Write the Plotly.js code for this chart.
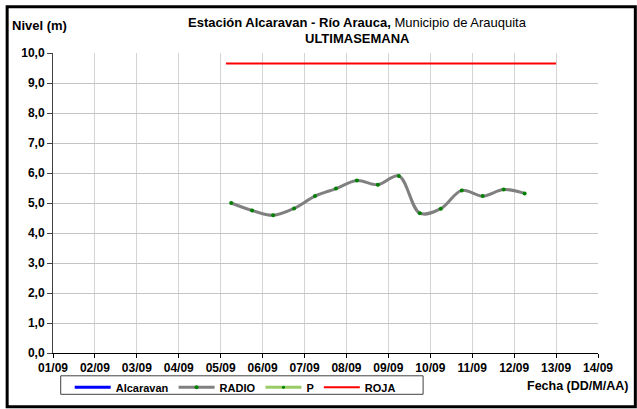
<!DOCTYPE html>
<html>
<head>
<meta charset="utf-8">
<script src="https://cdn.plot.ly/plotly-3.0.1.min.js"></script>
<style>
html,body{margin:0;padding:0;background:#fff;}
#chart{width:637px;height:409px;}
</style>
</head>
<body>
<div id="chart"></div>
<script>
// ---- data ----
var radioDates = ['2023-09-05 06:00','2023-09-05 18:00','2023-09-06 06:00','2023-09-06 18:00',
  '2023-09-07 06:00','2023-09-07 18:00','2023-09-08 06:00','2023-09-08 18:00',
  '2023-09-09 06:00','2023-09-09 18:00','2023-09-10 06:00','2023-09-10 18:00',
  '2023-09-11 06:00','2023-09-11 18:00','2023-09-12 06:00'];
var radioValues = [5.00, 4.75, 4.59, 4.82, 5.23, 5.48, 5.75, 5.61, 5.90, 4.66, 4.81, 5.42, 5.23, 5.45, 5.32];
var rojaDates = ['2023-09-05 03:00','2023-09-13 00:00'];
var rojaValues = [9.65, 9.65];
var alcaravanDates = [null];
var alcaravanValues = [null];
var pDates = [null];
var pValues = [null];
var xTickVals = ['2023-09-01','2023-09-02','2023-09-03','2023-09-04','2023-09-05','2023-09-06','2023-09-07',
  '2023-09-08','2023-09-09','2023-09-10','2023-09-11','2023-09-12','2023-09-13','2023-09-14'];
var xTickText = ['01/09','02/09','03/09','04/09','05/09','06/09','07/09','08/09','09/09','10/09','11/09','12/09','13/09','14/09'];

var F = 'Liberation Sans, Arial, sans-serif';

var traces = [
  {name:'Alcaravan', x:alcaravanDates, y:alcaravanValues, type:'scatter', mode:'lines',
   line:{color:'#0000ff', width:3}},
  {name:'RADIO', x:radioDates, y:radioValues, type:'scatter', mode:'lines+markers',
   line:{color:'#808080', width:3, shape:'spline', smoothing:1},
   marker:{color:'#008000', size:4}},
  {name:'P', x:pDates, y:pValues, type:'scatter', mode:'lines+markers',
   line:{color:'#99cc66', width:3}, marker:{color:'#008000', size:3}},
  {name:'ROJA', x:rojaDates, y:rojaValues, type:'scatter', mode:'lines',
   line:{color:'#ff0000', width:2}}
];

var plotL = 53.3, plotR = 597.7, plotT = 52.7, plotB = 352.7;
var W = 637, H = 409;
function px(x){ return (x - plotL)/(plotR - plotL); }
function py(y){ return (plotB - y)/(plotB - plotT); }

var layout = {
  width: W, height: H,
  margin: {l: plotL, r: W - plotR, t: plotT, b: H - plotB, pad: 0, autoexpand: false},
  paper_bgcolor: '#ffffff', plot_bgcolor: '#ffffff',
  separators: ',.',
  font: {family: F, size: 11, color: '#000'},
  showlegend: true,
  legend: {orientation: 'h', x: px(70), y: py(372.5), xanchor: 'left', yanchor: 'top',
    borderwidth: 0, font: {family: F, size: 11, color: '#000', weight: 'bold'},
    bgcolor: 'rgba(0,0,0,0)', itemwidth: 36},
  xaxis: {type: 'date', range: ['2023-09-01','2023-09-14'],
    tickvals: xTickVals, ticktext: xTickText,
    showgrid: true, gridcolor: '#d4d4d4', gridwidth: 1,
    showline: true, linecolor: '#000', linewidth: 1,
    ticks: 'outside', ticklen: 4, tickcolor: '#000',
    tickfont: {family: F, size: 12, color: '#000', weight: 'bold'}, zeroline: false, fixedrange: true},
  yaxis: {range: [0, 10], dtick: 1, tick0: 0, tickformat: '.1f',
    showgrid: true, gridcolor: '#c4c4c4', gridwidth: 1,
    showline: true, linecolor: '#404040', linewidth: 1,
    ticks: 'outside', ticklen: 5, tickcolor: '#404040',
    tickfont: {family: F, size: 12, color: '#000', weight: 'bold'}, zeroline: false, fixedrange: true},
  yaxis2: {overlaying: 'y', side: 'right', anchor: 'x', range: [200, 0], dtick: 20, tick0: 0,
    showgrid: false, showline: true, linecolor: '#808080', linewidth: 1,
    ticks: 'outside', ticklen: 5, tickcolor: '#808080', ticklabelstandoff: 14,
    tickfont: {family: F, size: 12, color: '#000', weight: 'bold'}, zeroline: false, fixedrange: true},
  shapes: [
    {type: 'rect', xref: 'paper', yref: 'paper', x0: px(7.5), x1: px(635), y0: py(6.5), y1: py(406.5),
     line: {color: '#000', width: 3}, fillcolor: 'rgba(0,0,0,0)', layer: 'above'},
    {type: 'rect', xref: 'paper', yref: 'paper', x0: px(61), x1: px(423), y0: py(375.5), y1: py(394),
     line: {color: '#404040', width: 1}, fillcolor: 'rgba(0,0,0,0)', layer: 'above'}
  ],
  annotations: [
    {text: '<b>Nivel (m)</b>', xref: 'paper', yref: 'paper', x: px(10), y: py(25), xanchor: 'left', yanchor: 'middle',
     showarrow: false, font: {family: F, size: 13, color: '#000'}},
    {text: '<b>Estación Alcaravan - Río Arauca,</b> Municipio de Arauquita', xref: 'paper', yref: 'paper',
     x: px(357), y: py(22), xanchor: 'center', yanchor: 'middle',
     showarrow: false, font: {family: F, size: 13, color: '#000'}},
    {text: '<b>ULTIMASEMANA</b>', xref: 'paper', yref: 'paper', x: px(357), y: py(38.5), xanchor: 'center', yanchor: 'middle',
     showarrow: false, font: {family: F, size: 13, color: '#000'}},
    {text: '<b>Fecha (DD/M/AA)</b>', xref: 'paper', yref: 'paper', x: px(630), y: py(386), xanchor: 'right', yanchor: 'middle',
     showarrow: false, font: {family: F, size: 12.5, color: '#000'}}
  ]
};

Plotly.newPlot('chart', traces, layout, {displayModeBar: false, staticPlot: true});
</script>
</body>
</html>
